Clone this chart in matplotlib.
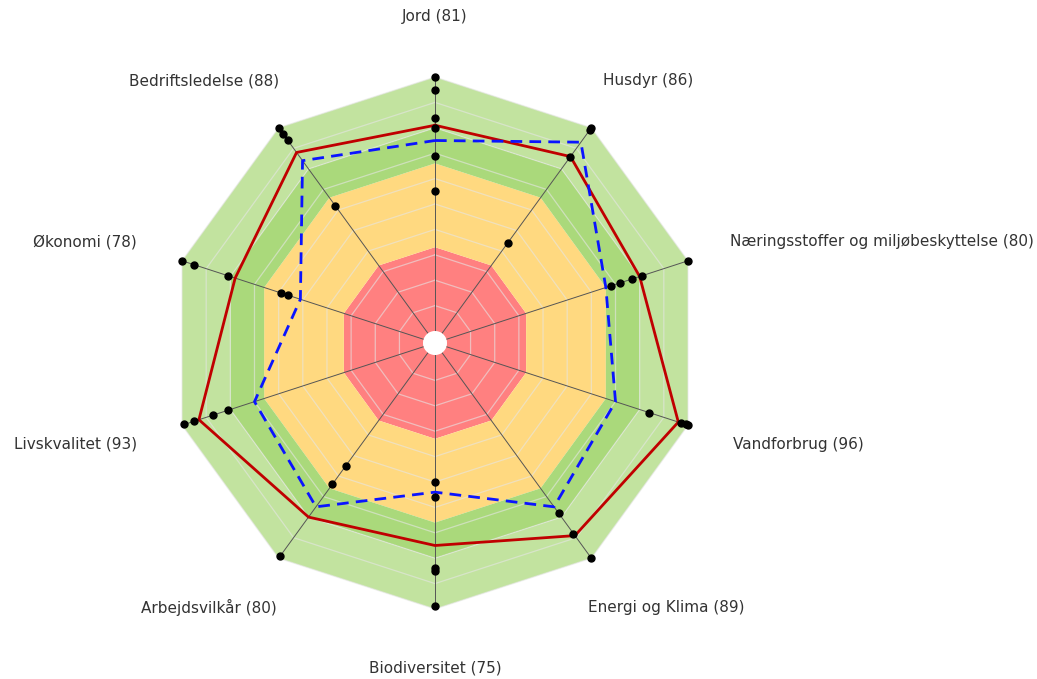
import numpy as np
import matplotlib
matplotlib.use("Agg")
import matplotlib.pyplot as plt

categories = ["Jord", "Husdyr", "Næringsstoffer og miljøbeskyttelse", "Vandforbrug",
              "Energi og Klima", "Biodiversitet", "Arbejdsvilkår", "Livskvalitet",
              "Økonomi", "Bedriftsledelse"]
scores = [81, 86, 80, 96, 89, 75, 80, 93, 78, 88]
comparison = [75, 93, 66, 70, 75, 54, 75, 70, 51, 84]
indicators = [
    [100, 95, 84, 80, 69, 55],
    [100, 99, 86, 44],
    [100, 81, 77, 72, 68],
    [100, 99, 97, 84],
    [100, 88, 78],
    [99, 85, 84, 56, 50],
    [99, 64, 55],
    [99, 95, 87, 81],
    [100, 95, 81, 59, 56],
    [100, 97, 94, 62],
]
band_edges = [0, 33, 66, 80, 100]
band_colors = ["#ff8080", "#ffd980", "#aad97b", "#c2e39f"]
grid_levels = [10, 20, 30, 40, 50, 60, 70, 80, 90, 100]

# label placement: offset in pixels from the axis end, and alignment
label_offsets = [(0, 60), (12, 47), (42, 19), (45, -19), (-3, -49),
                 (0, -59), (-2, -49), (-45, -19), (-45, 19), (0, 47)]
label_align = ["center", "left", "left", "left", "left",
               "center", "right", "right", "right", "right"]

n = len(categories)
theta = np.arange(n) * 2 * np.pi / n
theta_c = np.append(theta, theta[0])


def closed(vals):
    vals = list(vals)
    return np.array(vals + vals[:1], dtype=float)


W, H = 1037, 679
fig = plt.figure(figsize=(W / 100, H / 100), dpi=100)
cx, cy, R = 435, 343, 266
ax = fig.add_axes([(cx - R) / W, (H - cy - R) / H, 2 * R / W, 2 * R / H],
                  projection="polar")
ax.set_theta_zero_location("N")
ax.set_theta_direction(-1)
ax.set_ylim(0, 100)
ax.set_rorigin(-4.72)
ax.grid(False)
ax.set_xticks([])
ax.set_yticks([])
for sp in ax.spines.values():
    sp.set_visible(False)
ax.set_frame_on(False)
ax.patch.set_visible(False)

# coloured bands as decagonal rings
for lo, hi, col in zip(band_edges[:-1], band_edges[1:], band_colors):
    outer = np.full(n + 1, hi, dtype=float)
    inner = np.full(n + 1, lo, dtype=float)
    ax.fill(np.concatenate([theta_c, theta_c[::-1]]),
            np.concatenate([outer, inner[::-1]]),
            color=col, lw=0, zorder=1)

# polygon grid
for g in grid_levels:
    ax.plot(theta_c, np.full(n + 1, g), color="#e6e6e6", lw=0.9, alpha=0.6, zorder=2)

# spokes
for t in theta:
    ax.plot([t, t], [0, 100], color="#555555", lw=0.7, zorder=3)

ax.plot(theta_c, closed(scores), color="#c00000", lw=2, zorder=4)
ax.plot(theta_c, closed(comparison), color="#0a14ff", lw=2,
        linestyle=(0, (4.2, 2.6)), zorder=5)

for t, vals in zip(theta, indicators):
    ax.plot(np.full(len(vals), t), vals, "o", color="black", ms=5,
            ls="none", zorder=6, clip_on=False)

for t, cat, sc, off, al in zip(theta, categories, scores, label_offsets, label_align):
    ax.annotate(f"{cat} ({sc})", xy=(t, 100), xytext=off, textcoords="offset pixels",
                ha=al, va="center", fontsize=11, color="#333333",
                annotation_clip=False)

fig.savefig("out.png", dpi=100)
